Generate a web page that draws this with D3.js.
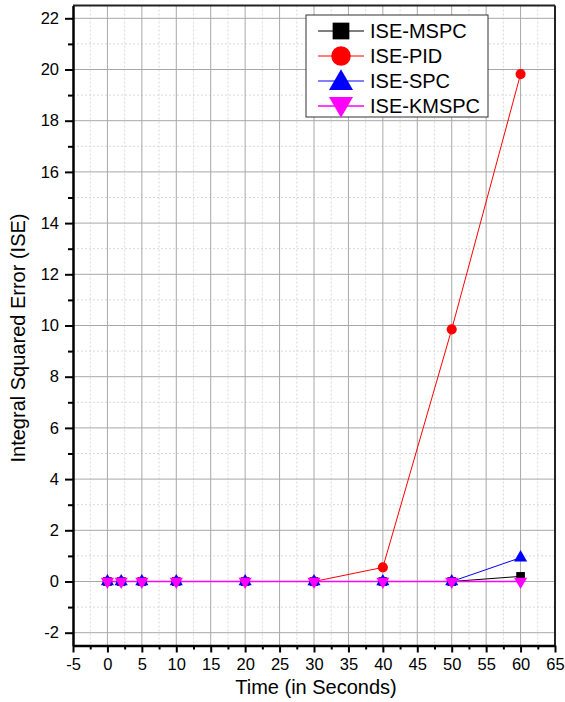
<!DOCTYPE html>
<html lang="en">
<head>
<meta charset="UTF-8">
<title>ISE vs Time</title>
<script src="https://d3js.org/d3.v7.min.js"></script>
<style>
    body { margin: 0; background: #fff; font-family: Arial, "Liberation Sans", sans-serif; }
    svg text { font-family: Arial, "Liberation Sans", sans-serif; fill: #000; }
</style>
</head>
<body>
<svg id="chart" width="565" height="702"></svg>
<script>
    // data
    const time = [0, 2, 5, 10, 20, 30, 40, 50, 60];
    const iseMSPC = [0, 0, 0, 0, 0, 0, 0, 0, 0.2];
    const isePID = [0, 0, 0, 0, 0, 0, 0.55, 9.85, 19.82];
    const iseSPC = [0, 0, 0, 0, 0, 0, 0, 0, 0.93];
    const iseKMSPC = [0, 0, 0, 0, 0, 0, 0, 0, 0];

    const xTicks = d3.range(-5, 66, 5);
    const yTicks = d3.range(-2, 23, 2);

    const series = [
        { name: 'ISE-MSPC', values: iseMSPC, color: '#000000', symbol: d3.symbolSquare, lw: 1 },
        { name: 'ISE-PID', values: isePID, color: '#ff0000', symbol: d3.symbolCircle, lw: 1 },
        { name: 'ISE-SPC', values: iseSPC, color: '#0000ff', symbol: d3.symbolTriangle, lw: 1 },
        { name: 'ISE-KMSPC', values: iseKMSPC, color: '#ff00ff', symbol: 'down', lw: 1.6 }
    ];

    const svg = d3.select('#chart');
    const pLeft = 73, pRight = 555, pTop = 5.5, pBottom = 645.5;

    const x = d3.scaleLinear().domain([-5, 65]).range([pLeft, pRight]);
    const y = d3.scaleLinear().domain([-2.5, 22.5]).range([pBottom, pTop]);

    // minor grid (dotted)
    const xMinor = d3.range(-2.5, 65, 5);
    const yMinor = d3.range(-1, 23, 2);
    svg.append('g').selectAll('line').data(xMinor).enter().append('line')
        .attr('x1', d => x(d)).attr('x2', d => x(d)).attr('y1', pTop).attr('y2', pBottom)
        .attr('stroke', '#d9d9d9').attr('stroke-dasharray', '2,2');
    svg.append('g').selectAll('line').data(yMinor).enter().append('line')
        .attr('x1', pLeft).attr('x2', pRight).attr('y1', d => y(d)).attr('y2', d => y(d))
        .attr('stroke', '#d9d9d9').attr('stroke-dasharray', '2,2');

    // major grid
    svg.append('g').selectAll('line').data(xTicks.slice(1, -1)).enter().append('line')
        .attr('x1', d => x(d)).attr('x2', d => x(d)).attr('y1', pTop).attr('y2', pBottom)
        .attr('stroke', '#a8a8a8');
    svg.append('g').selectAll('line').data(yTicks).enter().append('line')
        .attr('x1', pLeft).attr('x2', pRight).attr('y1', d => y(d)).attr('y2', d => y(d))
        .attr('stroke', '#a8a8a8');

    // frame top/right
    svg.append('line').attr('x1', pLeft).attr('x2', pRight).attr('y1', pTop).attr('y2', pTop)
        .attr('stroke', '#222').attr('stroke-width', 2);
    svg.append('line').attr('x1', pRight).attr('x2', pRight).attr('y1', pTop).attr('y2', pBottom)
        .attr('stroke', '#222').attr('stroke-width', 2);

    // axes
    const fmt = d => String(d);
    svg.append('g').attr('transform', `translate(0,${pBottom})`)
        .call(d3.axisBottom(x).tickValues(xTicks).tickFormat(fmt).tickSize(7).tickSizeOuter(0).tickPadding(6));
    svg.append('g').attr('transform', `translate(0,${pBottom})`)
        .call(d3.axisBottom(x).tickValues(xMinor).tickSize(4).tickFormat(''))
        .call(g => g.select('.domain').remove());
    svg.append('g').attr('transform', `translate(${pLeft},0)`)
        .call(d3.axisLeft(y).tickValues(yTicks).tickFormat(fmt).tickSize(8).tickSizeOuter(0).tickPadding(6));
    svg.append('g').attr('transform', `translate(${pLeft},0)`)
        .call(d3.axisLeft(y).tickValues(yMinor).tickSize(5).tickFormat(''))
        .call(g => g.select('.domain').remove());

    svg.selectAll('.domain').attr('stroke', '#000').attr('stroke-width', 2.5);
    svg.selectAll('.tick line').attr('stroke', '#000').attr('stroke-width', 2);
    svg.selectAll('.tick text').style('font-size', '16.5px').attr('fill', '#000');

    // axis titles
    svg.append('text').attr('x', 316).attr('y', 694).attr('text-anchor', 'middle')
        .style('font-size', '20px').text('Time (in Seconds)');
    svg.append('text').attr('transform', 'translate(25,338) rotate(-90)').attr('text-anchor', 'middle')
        .style('font-size', '20px').text('Integral Squared Error (ISE)');

    function symbolPath(sym, size) {
        if (sym === 'down') {
            return d3.symbol().type(d3.symbolTriangle).size(size)();
        }
        return d3.symbol().type(sym).size(size)();
    }

    const line = d3.line().x(d => x(d[0])).y(d => y(d[1]));

    series.forEach(s => {
        const pts = time.map((t, i) => [t, s.values[i]]);
        svg.append('path').datum(pts).attr('d', line)
            .attr('fill', 'none').attr('stroke', s.color).attr('stroke-width', s.lw);
    });
    series.forEach(s => {
        const pts = time.map((t, i) => [t, s.values[i]]);
        const size = s.symbol === d3.symbolCircle ? 80 : s.symbol === d3.symbolSquare ? 75 : 75;
        svg.append('g').selectAll('path').data(pts).enter().append('path')
            .attr('d', symbolPath(s.symbol, size))
            .attr('transform', d => `translate(${x(d[0])},${y(d[1])})` + (s.symbol === 'down' ? ' rotate(180)' : ''))
            .attr('fill', s.color);
    });

    // legend
    const legend = svg.append('g');
    legend.append('rect').attr('x', 306).attr('y', 15).attr('width', 182).attr('height', 102)
        .attr('fill', '#fff').attr('stroke', '#333').attr('stroke-width', 1);
    const rowY = [31, 56, 81, 106];
    series.forEach((s, i) => {
        const gy = rowY[i];
        legend.append('line').attr('x1', 318).attr('x2', 364).attr('y1', gy).attr('y2', gy)
            .attr('stroke', s.color).attr('stroke-width', s.lw);
        const size = s.symbol === d3.symbolCircle ? 300 : s.symbol === d3.symbolSquare ? 280 : 250;
        legend.append('path').attr('d', symbolPath(s.symbol, size))
            .attr('transform', `translate(341,${gy + (s.symbol === d3.symbolTriangle ? 2 : s.symbol === 'down' ? -2 : 0)})` + (s.symbol === 'down' ? ' rotate(180)' : ''))
            .attr('fill', s.color);
        legend.append('text').attr('x', 370).attr('y', gy + 7).style('font-size', '20px').text(s.name);
    });
</script>
</body>
</html>
